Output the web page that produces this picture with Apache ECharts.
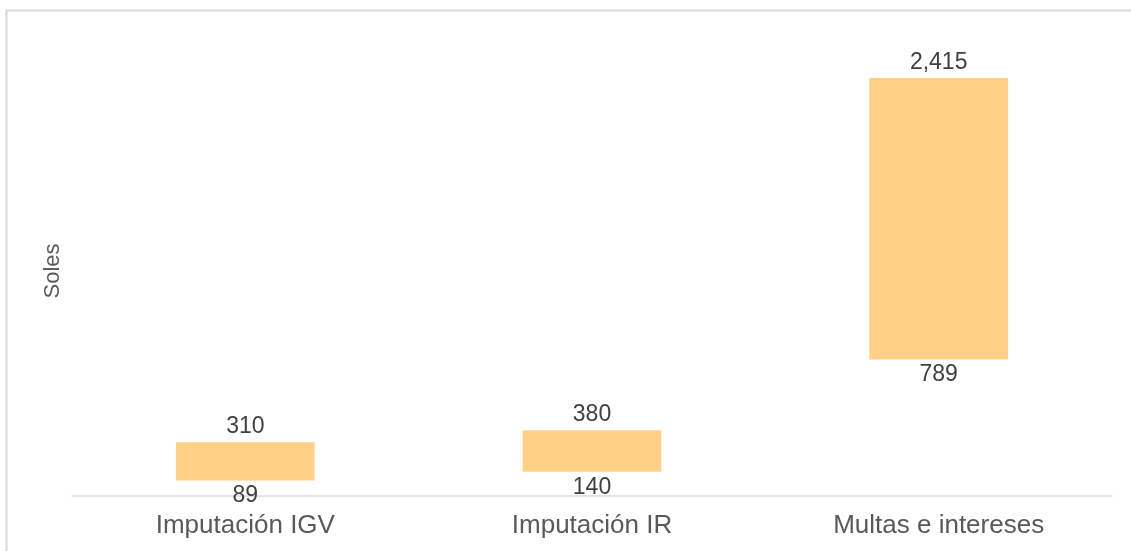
<!DOCTYPE html>
<html>
<head>
<meta charset="utf-8">
<script src="https://cdn.jsdelivr.net/npm/echarts@6/dist/echarts.min.js"></script>
<style>
  html, body { margin: 0; padding: 0; background: #fff; }
  #main { width: 1131px; height: 551px; }
</style>
</head>
<body>
<div id="main"></div>
<script>
// categorias y rangos (minimo - maximo) en soles
var categorias = ['Imputación IGV', 'Imputación IR', 'Multas e intereses'];
var minimos = [89, 140, 789];
var maximos = [310, 380, 2415];

// el tramo visible es maximo - minimo, apilado sobre una base transparente
var rangos = maximos.map(function (v, i) { return v - minimos[i]; });

function fmt(v) {
    return v.toLocaleString('en-US');
}

var myChart = echarts.init(document.getElementById('main'));
var option = {
    animation: false,
    textStyle: { fontFamily: 'Liberation Sans, Arial, sans-serif' },
    graphic: [{
        type: 'rect',
        shape: { x: 6.5, y: 10.5, width: 1140, height: 560 },
        style: { fill: 'none', stroke: '#d9d9d9', lineWidth: 2 },
        silent: true
    }],
    grid: { left: 72, right: 19, top: 46, bottom: 55 },
    xAxis: {
        type: 'category',
        data: categorias,
        axisLine: { lineStyle: { color: '#d9d9d9', width: 1.5 } },
        axisTick: { show: false },
        axisLabel: { color: '#595959', fontSize: 26, margin: 17 }
    },
    yAxis: {
        type: 'value',
        min: 0,
        max: 2600,
        name: 'Soles',
        nameLocation: 'middle',
        nameGap: 8,
        nameRotate: 90,
        nameTextStyle: { color: '#595959', fontSize: 22 },
        axisLine: { show: false },
        axisTick: { show: false },
        axisLabel: { show: false },
        splitLine: { show: false }
    },
    series: [{
        name: 'base',
        type: 'bar',
        stack: 'total',
        barWidth: '40%',
        itemStyle: { color: 'transparent' },
        label: {
            show: true,
            position: 'insideTop',
            distance: 4,
            color: '#404040',
            fontSize: 23,
            formatter: function (p) { return fmt(minimos[p.dataIndex]); }
        },
        data: minimos
    }, {
        name: 'rango',
        type: 'bar',
        stack: 'total',
        barWidth: '40%',
        itemStyle: { color: '#ffd086' },
        label: {
            show: true,
            position: 'top',
            distance: 4,
            color: '#404040',
            fontSize: 23,
            formatter: function (p) { return fmt(maximos[p.dataIndex]); }
        },
        data: rangos
    }]
};
myChart.setOption(option);
</script>
</body>
</html>
